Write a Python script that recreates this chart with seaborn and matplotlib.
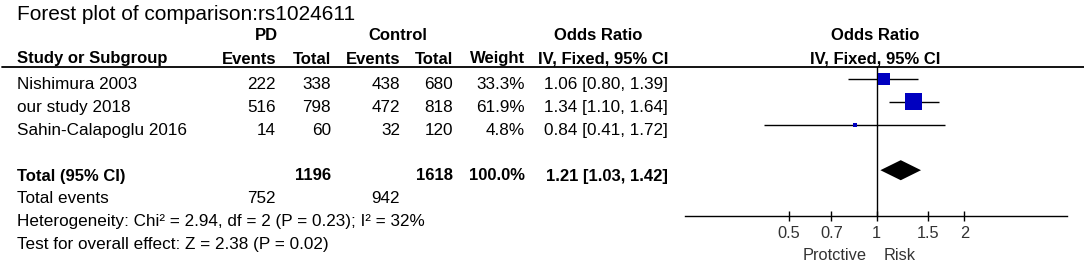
import matplotlib.pyplot as plt
import numpy as np
import pandas as pd
import seaborn as sns

# ---------------------------------------------------------------- data
STUDIES = ["Nishimura 2003", "our study 2018", "Sahin-Calapoglu 2016"]
PD_EVENTS = [222, 516, 14]
PD_TOTAL = [338, 798, 60]
CTRL_EVENTS = [438, 472, 32]
CTRL_TOTAL = [680, 818, 120]
WEIGHT = [33.3, 61.9, 4.8]
OR = [1.06, 1.34, 0.84]
OR_LO = [0.80, 1.10, 0.41]
OR_HI = [1.39, 1.64, 1.72]

TOTAL_PD, TOTAL_CTRL = 1196, 1618
TOTAL_EVENTS_PD, TOTAL_EVENTS_CTRL = 752, 942
POOLED = (1.21, 1.03, 1.42)
HETEROGENEITY = "Heterogeneity: Chi² = 2.94, df = 2 (P = 0.23); I² = 32%"
OVERALL = "Test for overall effect: Z = 2.38 (P = 0.02)"
TICKS = [0.5, 0.7, 1, 1.5, 2]
TICK_LABELS = ["0.5", "0.7", "1", "1.5", "2"]

# ---------------------------------------------------------------- layout (pixels)
W, H = 1084, 263
ROW0_TXT, ROW0_MARK, ROW_STEP = 89.3, 79, 22.8
LEFT = 17
COL_R = {"pd_ev": 276, "pd_tot": 331, "c_ev": 400, "c_tot": 453,
         "weight": 525, "or": 668}
FS, FS_B = 12.3, 12.0
BLUE = "#0000C0"

sns.set_theme(style="white")
plt.rcParams["font.family"] = ["Liberation Sans", "DejaVu Sans"]

fig = plt.figure(figsize=(W / 100, H / 100), dpi=100)
tab = fig.add_axes([0, 0, 1, 1])
tab.set_xlim(0, W)
tab.set_ylim(H, 0)
tab.axis("off")


def txt(x, y, s, ha="left", bold=False, size=None, color="black"):
    tab.text(x, y, s, ha=ha, va="baseline", color=color,
             fontsize=size or (FS_B if bold else FS),
             fontweight="bold" if bold else "normal")


def row_y(i):
    return ROW0_TXT + ROW_STEP * i


# title + headers
txt(LEFT, 19.5, "Forest plot of comparison:rs1024611", size=15)
txt(266, 40.5, "PD", ha="center", bold=True)
txt(398, 40.5, "Control", ha="center", bold=True)
txt(598, 40.5, "Odds Ratio", ha="center", bold=True)
txt(875, 40.5, "Odds Ratio", ha="center", bold=True)
txt(LEFT, 63.5, "Study or Subgroup", bold=True)
for key, lab in [("pd_ev", "Events"), ("pd_tot", "Total"), ("c_ev", "Events"),
                 ("c_tot", "Total"), ("weight", "Weight"), ("or", "IV, Fixed, 95% CI")]:
    txt(COL_R[key], 63.5, lab, ha="right", bold=True)
txt(875, 63.5, "IV, Fixed, 95% CI", ha="center", bold=True)
tab.plot([2, W], [67, 67], color="black", lw=1.3)

# study rows
for i, name in enumerate(STUDIES):
    y = row_y(i)
    txt(LEFT, y, name)
    txt(COL_R["pd_ev"], y, str(PD_EVENTS[i]), ha="right")
    txt(COL_R["pd_tot"], y, str(PD_TOTAL[i]), ha="right")
    txt(COL_R["c_ev"], y, str(CTRL_EVENTS[i]), ha="right")
    txt(COL_R["c_tot"], y, str(CTRL_TOTAL[i]), ha="right")
    txt(COL_R["weight"], y, f"{WEIGHT[i]:.1f}%", ha="right")
    txt(COL_R["or"], y, f"{OR[i]:.2f} [{OR_LO[i]:.2f}, {OR_HI[i]:.2f}]", ha="right")

# totals
y = row_y(4)
txt(LEFT, y, "Total (95% CI)", bold=True)
txt(COL_R["pd_tot"], y, str(TOTAL_PD), ha="right", bold=True)
txt(COL_R["c_tot"], y, str(TOTAL_CTRL), ha="right", bold=True)
txt(COL_R["weight"], y, f"{sum(WEIGHT):.1f}%", ha="right", bold=True)
txt(COL_R["or"], y, f"{POOLED[0]:.2f} [{POOLED[1]:.2f}, {POOLED[2]:.2f}]",
    ha="right", bold=True)
y = row_y(5)
txt(LEFT, y, "Total events")
txt(COL_R["pd_ev"], y, str(TOTAL_EVENTS_PD), ha="right")
txt(COL_R["c_ev"], y, str(TOTAL_EVENTS_CTRL), ha="right")
txt(LEFT, row_y(6), HETEROGENEITY)
txt(LEFT, row_y(7), OVERALL)

# ---------------------------------------------------------------- forest panel
ax_l, ax_r, ax_top, ax_bot = 685, 1067, 67, 216
ax = fig.add_axes([ax_l / W, (H - ax_bot) / H, (ax_r - ax_l) / W, (ax_bot - ax_top) / H])
ax.patch.set_visible(False)
ax.set_xscale("log")
ax.set_xlim(0.22, 4.5)
ax.set_ylim((ax_bot - ROW0_MARK) / ROW_STEP, (ax_top - ROW0_MARK) / ROW_STEP)

df = pd.DataFrame({"study": STUDIES, "or": OR, "lo": OR_LO, "hi": OR_HI,
                   "weight": WEIGHT, "row": np.arange(len(STUDIES))})
ax.hlines(df["row"], df["lo"], df["hi"], color="black", lw=1.0, zorder=2)
sns.scatterplot(data=df, x="or", y="row", size="weight", sizes=(8, 150),
                size_norm=(min(WEIGHT), max(WEIGHT)), marker="s", color=BLUE,
                edgecolor=BLUE, linewidth=0, legend=False, zorder=3, ax=ax)

est, lo, hi = POOLED
dy = 0.44
ax.fill([lo, est, hi, est], [4, 4 - dy, 4, 4 + dy], color="black", lw=0, zorder=3)
ax.axvline(1, color="black", lw=1.0, zorder=1)

for side in ["top", "right", "left"]:
    ax.spines[side].set_visible(False)
ax.spines["bottom"].set_color("black")
ax.spines["bottom"].set_linewidth(1.0)
ax.set_yticks([])
ax.set_xticks(TICKS)
ax.set_xticklabels(TICK_LABELS)
ax.minorticks_off()
ax.tick_params(axis="x", direction="inout", length=7, width=1.0, color="black",
               labelsize=11.8, labelcolor="#333333", pad=3.5, bottom=True)
ax.set_xlabel("")
ax.set_ylabel("")

tab.text(835, 255, "Protctive", ha="center", va="center", fontsize=11.8, color="#333333")
tab.text(900, 255, "Risk", ha="center", va="center", fontsize=11.8, color="#333333")

fig.savefig("out.png", dpi=100)
plt.close(fig)
